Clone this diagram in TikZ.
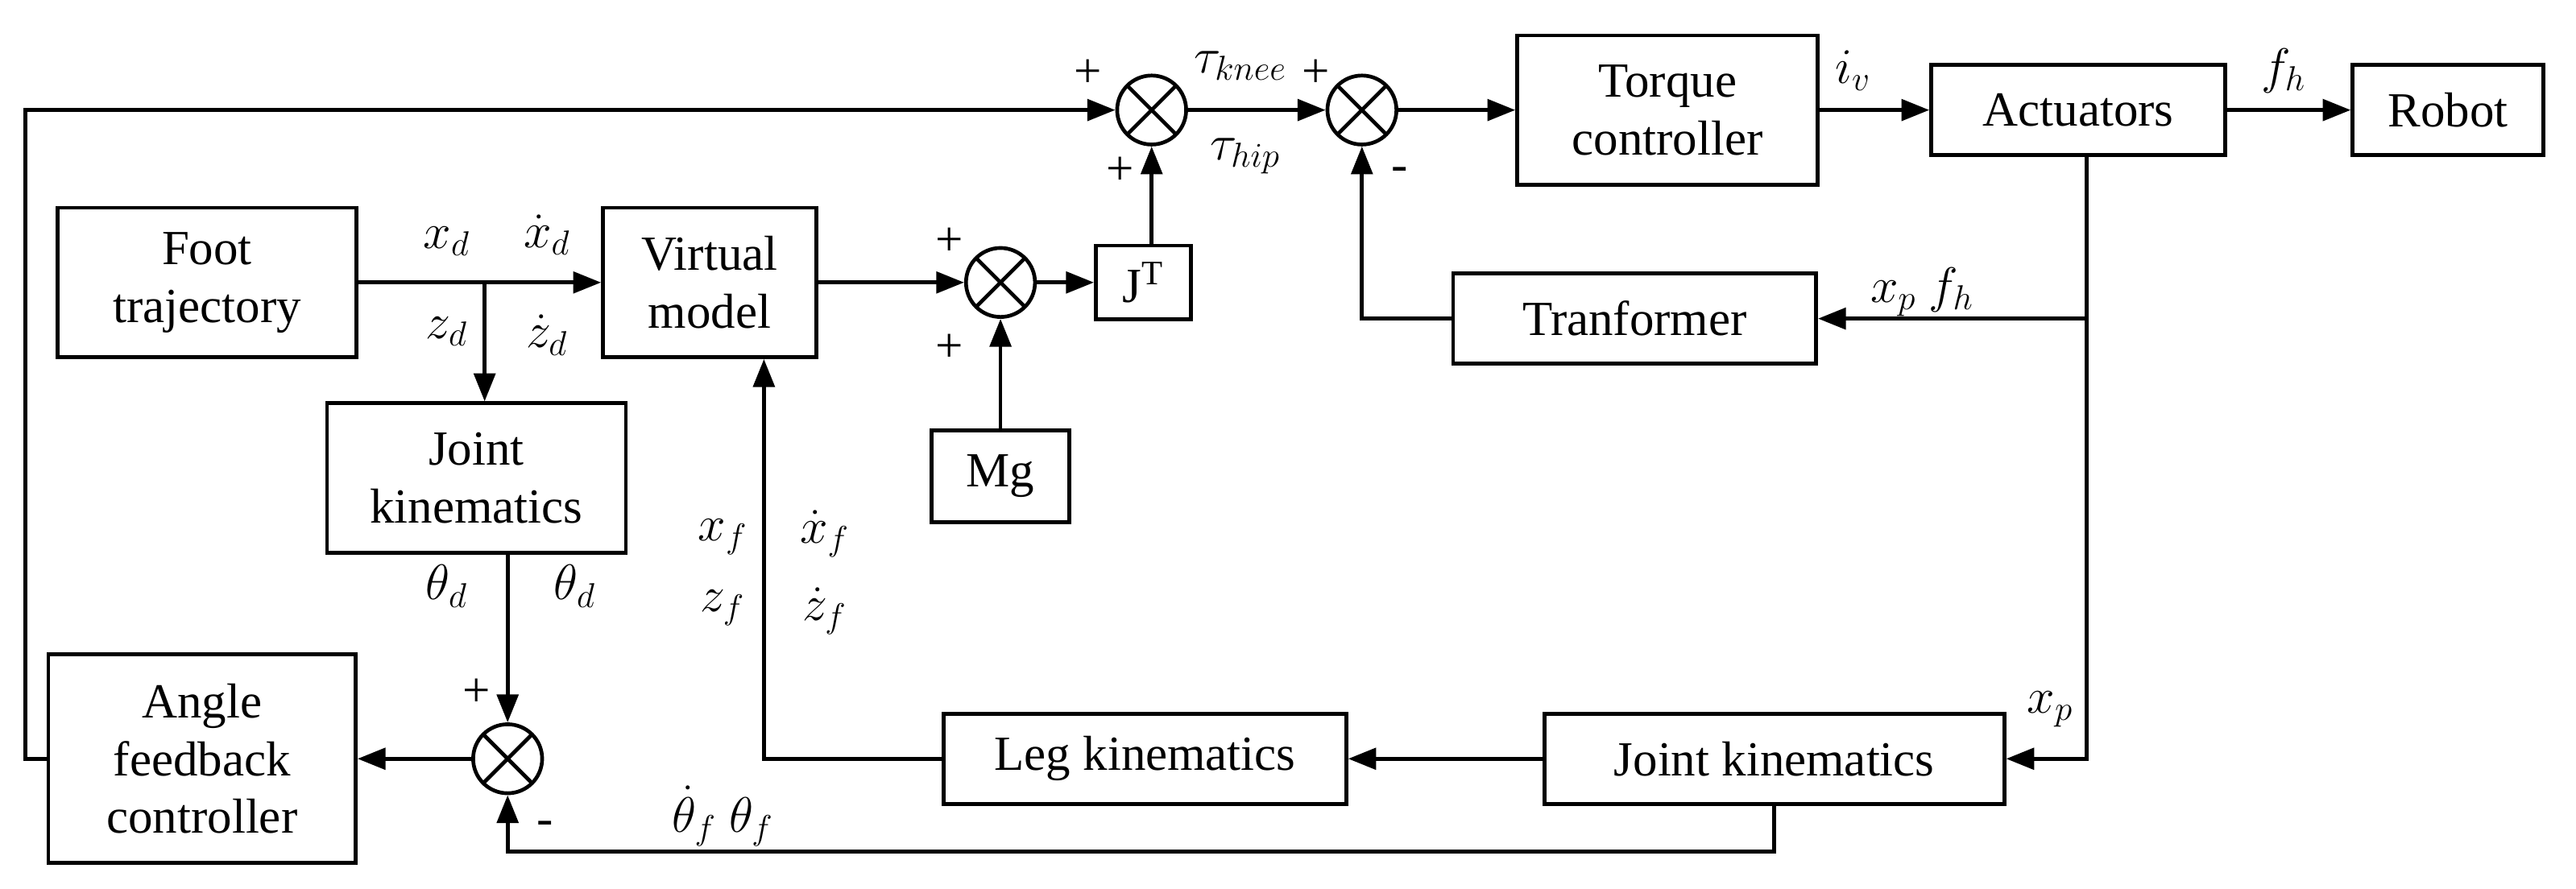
\documentclass[tikz,border=0pt]{standalone}
\usepackage{fontspec}
\setmainfont{Liberation Serif}
\usetikzlibrary{arrows.meta}
\tikzset{
  blk/.style = {draw, line width=1.3pt, align=center, inner sep=0pt},
  sum/.style = {draw, circle, line width=1.3pt, minimum size=8.4mm, inner sep=0pt,
    path picture={\draw[line width=1.3pt] (path picture bounding box.north west) -- (path picture bounding box.south east)
      (path picture bounding box.north east) -- (path picture bounding box.south west);}},
  sig/.style = {line width=1.3pt, -{Triangle[length=3.4mm,width=2.6mm]}},
  ln/.style = {line width=1.3pt}
}
\begin{document}
\begin{tikzpicture}[x=0.2mm, y=-0.2mm, font=\fontsize{17}{20}\selectfont]
  \useasboundingbox (0,0) rectangle (1568,541);
  % blocks
  \node (Foot) [blk, minimum width=36.4mm, minimum height=18.2mm] at (126,172) {Foot\\trajectory};
  \node (VM) [blk, minimum width=26mm, minimum height=18.2mm] at (432,172) {Virtual\\model};
  \node (JT) [blk, minimum width=11.6mm, minimum height=9mm] at (696,172) {J$^{\mathrm{T}}$};
  \node (Mg) [blk, minimum width=16.8mm, minimum height=11.2mm] at (609,290) {Mg};
  \node (TC) [blk, minimum width=36.6mm, minimum height=18.2mm] at (1015,67) {Torque\\controller};
  \node (Act) [blk, minimum width=35.8mm, minimum height=11mm] at (1265,67) {Actuators};
  \node (Robot) [blk, minimum width=23.2mm, minimum height=11mm] at (1490,67) {Robot};
  \node (Tran) [blk, minimum width=44.2mm, minimum height=11mm] at (995,194) {Tranformer};
  \node (JKa) [blk, minimum width=36.4mm, minimum height=18.2mm] at (290,291) {Joint\\kinematics};
  \node (AFC) [blk, minimum width=37.4mm, minimum height=25.4mm] at (123,462) {Angle\\feedback\\controller};
  \node (Leg) [blk, minimum width=49mm, minimum height=11mm] at (697,462) {Leg kinematics};
  \node (JKb) [blk, minimum width=56mm, minimum height=11mm] at (1080,462) {Joint kinematics};
  % summing junctions
  \node (SumM) [sum] at (609,172) {};
  \node (SumA) [sum] at (701,67) {};
  \node (SumB) [sum] at (829,67) {};
  \node (SumC) [sum] at (309,462) {};
  \coordinate (Br) at (295,172);
  \coordinate (Tap) at (1270,194);

  % connectors
  \draw[sig] (Foot) -- (VM);
  \draw[sig] (Br) -- (Br |- JKa.north);
  \draw[sig] (SumC |- JKa.south) -- (SumC);
  \draw[sig] (SumC) -- (AFC);
  \draw[sig] (AFC.west) -- ++(-13,0) |- (SumA);
  \draw[sig] (VM) -- (SumM);
  \draw[sig] (Mg) -- (SumM);
  \draw[sig] (SumM) -- (JT);
  \draw[sig] (JT.north -| SumA) -- (SumA);
  \draw[sig] (SumA) -- (SumB);
  \draw[sig] (SumB) -- (TC);
  \draw[sig] (TC) -- (Act);
  \draw[sig] (Act) -- (Robot);
  \draw[sig] (Act.south -| Tap) |- (JKb.east);
  \draw[sig] (Tap) -- (Tran);
  \draw[sig] (Tran) -| (SumB);
  \draw[sig] (JKb) -- (Leg);
  \draw[sig] (Leg) -| (465,0 |- VM.south);
  \draw[sig] (JKb.south) -- ++(0,28) -| (SumC);

  % labels
  \node at (272,147) {$x_d$};
  \node at (333,143) {$\dot{x}_d$};
  \node at (272,202) {$z_d$};
  \node at (333,204) {$\dot{z}_d$};
  \node at (272,357) {$\theta_d$};
  \node at (350,357) {$\theta_d$};
  \node at (290,422) {+};
  \node at (332,504) {-};
  \node at (440,327) {$x_f$};
  \node at (440,370) {$z_f$};
  \node at (502,325) {$\dot{x}_f$};
  \node at (502,372) {$\dot{z}_f$};
  \node at (440,497) {$\dot{\theta}_f\ \theta_f$};
  \node at (578,147) {+};
  \node at (578,212) {+};
  \node at (662,45) {+};
  \node at (682,104) {+};
  \node at (755,40) {$\tau_{knee}$};
  \node at (758,95) {$\tau_{hip}$};
  \node at (801,45) {+};
  \node at (852,106) {-};
  \node at (1128,43) {$i_v$};
  \node at (1390,43) {$f_h$};
  \node at (1170,178) {$x_p\ f_h$};
  \node at (1248,432) {$x_p$};
\end{tikzpicture}
\end{document}
